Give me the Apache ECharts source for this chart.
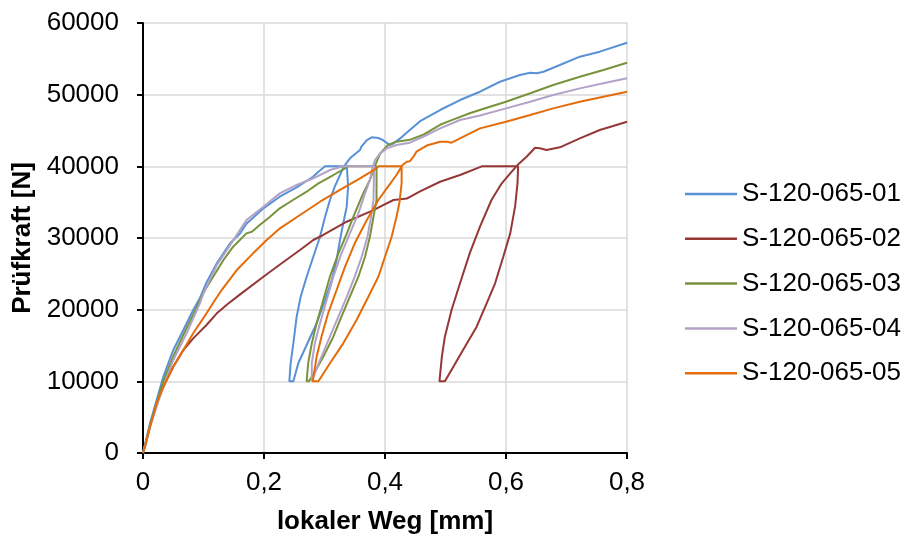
<!DOCTYPE html>
<html>
<head>
<meta charset="utf-8">
<script src="https://cdn.jsdelivr.net/npm/echarts@6/dist/echarts.min.js"></script>
<style>html,body{margin:0;padding:0;background:#fff;}#c{width:911px;height:539px;}</style>
</head>
<body>
<div id="c"></div>
<script>
const seriesNames = ['S-120-065-01','S-120-065-02','S-120-065-03','S-120-065-04','S-120-065-05'];
const xTicks = [0, 0.2, 0.4, 0.6, 0.8];
const yTicks = [0, 10000, 20000, 30000, 40000, 50000, 60000];

const s01 = [[0,0],[0.0116,4140],[0.0226,7400],[0.0336,10650],[0.05,14370],[0.0667,17160],[0.083,19950],[0.094,21600],[0.105,23800],[0.122,26470],[0.144,29260],[0.16,30600],[0.171,32000],[0.199,34140],[0.226,35760],[0.254,37070],[0.281,38550],[0.29,39250],[0.301,40000],[0.337,40000],
 [0.339,37160],[0.3367,34370],[0.331,32050],[0.3256,29720],[0.320,26930],[0.312,24140],[0.301,21350],[0.287,18100],[0.2705,15070],[0.2567,12520],[0.2485,10000],[0.2419,10000],
 [0.244,12520],[0.2485,15300],[0.254,19020],[0.2606,21810],[0.2705,24600],[0.2815,27390],[0.2926,30180],[0.301,32970],[0.309,35300],[0.317,37160],[0.3256,38790],[0.332,39950],[0.342,41120],[0.3587,42280],[0.361,42740],[0.370,43670],[0.378,44050],[0.389,43950],[0.396,43700],[0.408,42970],[0.414,43210],[0.425,43900],[0.441,45070],[0.458,46300],[0.491,47860],[0.524,49250],[0.557,50410],[0.590,51800],[0.623,52740],[0.640,53060],[0.651,52980],[0.662,53200],[0.689,54140],[0.722,55300],[0.755,56000],[0.8,57250]];

const s02 = [[0,0],[0.0033,880],[0.0116,3670],[0.0226,6930],[0.0336,9250],[0.05,12040],[0.0667,14370],[0.083,16000],[0.105,17860],[0.122,19490],[0.14,20800],[0.16,22100],[0.199,24600],[0.2264,26300],[0.2595,28320],[0.2815,29720],[0.298,30420],[0.3367,32270],[0.381,33900],[0.397,34600],[0.414,35300],[0.436,35500],[0.458,36500],[0.491,37850],[0.524,38790],[0.56,40000],[0.62,40000],
 [0.619,37630],[0.615,34370],[0.607,30650],[0.5955,27390],[0.582,23680],[0.568,20890],[0.5515,17620],[0.529,14370],[0.513,12040],[0.499,10000],[0.490,10000],
 [0.494,13440],[0.499,16230],[0.510,19950],[0.524,23680],[0.540,27860],[0.557,31580],[0.576,35300],[0.593,37630],[0.607,39020],[0.619,40180],[0.634,41340],[0.648,42600],[0.656,42510],[0.667,42280],[0.689,42650],[0.722,43900],[0.755,45070],[0.777,45630],[0.8,46230]];

const s03 = [[0,0],[0.0116,3900],[0.0226,7000],[0.0336,10000],[0.05,13500],[0.0667,16500],[0.083,19300],[0.1025,22740],[0.116,24600],[0.133,26930],[0.149,28790],[0.171,30650],[0.18,30880],[0.193,31810],[0.21,32970],[0.226,34140],[0.248,35300],[0.2705,36460],[0.29,37630],[0.3146,38790],[0.334,39720],[0.337,40000],[0.386,40000],
 [0.386,35300],[0.381,32970],[0.375,30180],[0.367,27390],[0.356,24600],[0.342,21810],[0.328,19020],[0.3146,16230],[0.298,13440],[0.284,11300],[0.274,10000],[0.2705,10000],
 [0.273,12520],[0.279,15300],[0.287,18100],[0.298,21350],[0.309,24600],[0.323,27860],[0.337,30650],[0.350,33440],[0.364,36230],[0.375,38090],[0.383,40000],[0.392,41810],[0.405,42970],[0.419,43440],[0.441,43700],[0.463,44400],[0.491,45800],[0.507,46350],[0.540,47400],[0.5735,48320],[0.6,49020],[0.640,50190],[0.678,51350],[0.722,52510],[0.761,53440],[0.8,54460]];

const s04 = [[0,0],[0.0116,3670],[0.028,7860],[0.05,12980],[0.072,16700],[0.094,20890],[0.1,22300],[0.122,26200],[0.144,29000],[0.171,32500],[0.199,34370],[0.226,36230],[0.254,37400],[0.2815,38330],[0.309,39490],[0.331,40000],[0.382,40000],
 [0.381,35300],[0.377,32970],[0.371,30180],[0.3615,27390],[0.350,24600],[0.337,21810],[0.323,19020],[0.309,16230],[0.295,13440],[0.286,11600],[0.279,10000],[0.276,10000],
 [0.279,12520],[0.284,15300],[0.2926,18100],[0.3036,21350],[0.3146,24600],[0.328,27860],[0.342,30650],[0.356,33440],[0.367,36230],[0.375,38090],[0.380,40000],[0.3835,40880],[0.392,41810],[0.403,42510],[0.419,42970],[0.441,43300],[0.463,44130],[0.491,45300],[0.524,46460],[0.557,47100],[0.600,48090],[0.640,49020],[0.678,49950],[0.722,50880],[0.761,51580],[0.8,52280]];

const s05 = [[0,0],[0.0033,880],[0.0116,3670],[0.0226,6930],[0.0336,9250],[0.05,12040],[0.0667,14370],[0.083,16700],[0.105,19490],[0.119,21350],[0.130,22740],[0.155,25530],[0.182,27860],[0.2045,29720],[0.2264,31350],[0.2595,33210],[0.2926,35060],[0.3256,36700],[0.3587,38330],[0.386,39720],[0.389,40000],[0.4275,40000],
 [0.4275,37630],[0.4237,34840],[0.419,32970],[0.411,30180],[0.400,27390],[0.389,24600],[0.3725,21810],[0.353,18560],[0.331,15300],[0.309,12520],[0.29,10000],[0.2805,10000],
 [0.287,13440],[0.295,16230],[0.306,19490],[0.320,22740],[0.334,26000],[0.350,29260],[0.370,32510],[0.389,35300],[0.405,37160],[0.419,38790],[0.429,40180],[0.436,40650],[0.441,40700],[0.447,41340],[0.452,42040],[0.469,42900],[0.491,43440],[0.502,43440],[0.51,43300],[0.524,43900],[0.557,45300],[0.600,46230],[0.640,47160],[0.678,48090],[0.722,49020],[0.761,49720],[0.8,50410]];

const colors = ['#5891D7','#953735','#77933C','#B3A2C7','#E46C0A'];
const allData = [s01, s02, s03, s04, s05];

const FONT = 'Liberation Sans, Arial, sans-serif';
const chart = echarts.init(document.getElementById('c'), null, {renderer:'canvas'});
chart.setOption({
  animation: false,
  backgroundColor: '#fff',
  textStyle: {fontFamily: FONT},
  grid: {left: 143, top: 23, width: 484, height: 430, containLabel: false, outerBoundsMode: 'none'},
  legend: {
    orient: 'vertical', left: 680, top: 176,
    itemWidth: 52, itemHeight: 2.5, itemGap: 18.8, icon: 'rect',
    data: seriesNames,
    textStyle: {fontFamily: FONT, fontSize: 26, color: '#000', lineHeight: 26}
  },
  xAxis: {
    type: 'value', min: xTicks[0], max: xTicks[xTicks.length-1], interval: 0.2,
    name: 'lokaler Weg [mm]', nameLocation: 'middle', nameGap: 56,
    nameTextStyle: {fontFamily: FONT, fontSize: 26, fontWeight: 'bold', color: '#000'},
    axisLine: {show: true, onZero: false, lineStyle: {color: '#000', width: 2}},
    axisTick: {show: true, inside: false, length: 6, lineStyle: {color: '#000', width: 2}},
    axisLabel: {margin: 17, fontFamily: FONT, fontSize: 26, color: '#000',
      formatter: v => (Math.round(v*10)/10).toString().replace('.', ',')},
    splitLine: {show: true, lineStyle: {color: '#D9D9D9', width: 1.5}}
  },
  yAxis: {
    type: 'value', min: yTicks[0], max: yTicks[yTicks.length-1], interval: 10000,
    name: 'Prüfkraft [N]', nameLocation: 'middle', nameGap: 103, nameRotate: 90,
    nameTextStyle: {fontFamily: FONT, fontSize: 26, fontWeight: 'bold', color: '#000'},
    axisLine: {show: true, lineStyle: {color: '#000', width: 2}},
    axisTick: {show: true, inside: false, length: 6, lineStyle: {color: '#000', width: 2}},
    axisLabel: {margin: 24, fontFamily: FONT, fontSize: 26, color: '#000',
      formatter: v => String(Math.round(v))},
    splitLine: {show: true, lineStyle: {color: '#D9D9D9', width: 1.5}}
  },
  series: seriesNames.map((n, i) => ({
    name: n, type: 'line', data: allData[i], symbol: 'none', showSymbol: false,
    lineStyle: {color: colors[i], width: 2}, itemStyle: {color: colors[i]},
    smooth: false, clip: true
  }))
});
</script>
</body>
</html>
